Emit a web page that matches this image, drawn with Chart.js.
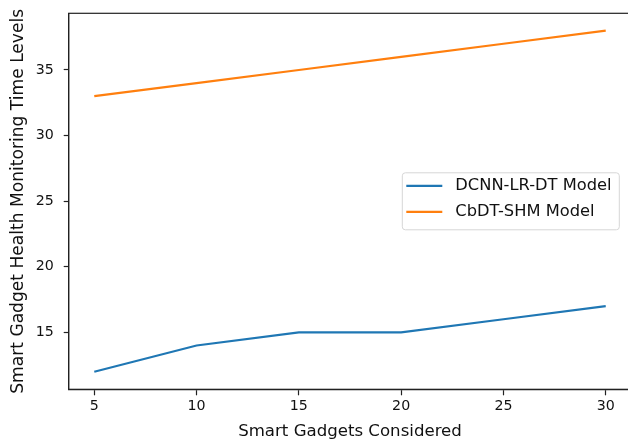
<!DOCTYPE html>
<html>
<head>
<meta charset="utf-8">
<script src="https://cdn.jsdelivr.net/npm/chart.js@4/dist/chart.umd.min.js"></script>
<style>
html,body{margin:0;padding:0;background:#fff;overflow:hidden;}
#wrap{width:628px;height:443px;overflow:hidden;position:relative;}
#box{width:640px;height:443px;position:absolute;left:0;top:0;}
</style>
</head>
<body>
<div id="wrap"><div id="box"><canvas id="c"></canvas></div></div>
<script>
const gadgets = [5, 10, 15, 20, 25, 30];
const dcnnLrDt = [12, 14, 15, 15, 16, 17];
const cbdtShm = [33, 34, 35, 36, 37, 38];
const seriesNames = ['DCNN-LR-DT Model', 'CbDT-SHM Model'];
const xTicks = [5, 10, 15, 20, 25, 30];
const yTicks = [15, 20, 25, 30, 35];
const xTitle = 'Smart Gadgets Considered';
const yTitle = 'Smart Gadget Health Monitoring Time Levels';

const FONT = 'DejaVu Sans';
const TICK_FS = 14.2;
const XT_FS = 16.6;
const YT_FS = 17.1;
const LEG_FS = 16.3;

const frame = {
  id: 'frame',
  afterDraw(chart) {
    const {ctx, chartArea: a} = chart;
    ctx.save();
    ctx.strokeStyle = '#222';
    ctx.lineWidth = 1.2;
    ctx.strokeRect(a.left, a.top, a.right - a.left, a.bottom - a.top);
    // legend (matplotlib style, center right)
    const w = 217, h = 57;
    const x0 = a.right - 12 - w;
    const y0 = (a.top + a.bottom) / 2 - h / 2;
    const r = 3;
    ctx.beginPath();
    ctx.moveTo(x0 + r, y0);
    ctx.arcTo(x0 + w, y0, x0 + w, y0 + h, r);
    ctx.arcTo(x0 + w, y0 + h, x0, y0 + h, r);
    ctx.arcTo(x0, y0 + h, x0, y0, r);
    ctx.arcTo(x0, y0, x0 + w, y0, r);
    ctx.closePath();
    ctx.fillStyle = 'rgba(255,255,255,0.8)';
    ctx.fill();
    ctx.strokeStyle = '#d6d6d6';
    ctx.lineWidth = 1;
    ctx.stroke();
    ctx.font = LEG_FS + 'px "' + FONT + '"';
    ctx.textBaseline = 'middle';
    ctx.textAlign = 'left';
    chart.data.datasets.forEach((ds, i) => {
      const yy = y0 + 13 + i * 26;
      ctx.beginPath();
      ctx.strokeStyle = ds.borderColor;
      ctx.lineWidth = 2.2;
      ctx.moveTo(x0 + 4, yy);
      ctx.lineTo(x0 + 40, yy);
      ctx.stroke();
      ctx.fillStyle = '#111';
      ctx.fillText(ds.label, x0 + 53, yy);
    });
    ctx.restore();
  }
};

new Chart(document.getElementById('c'), {
  type: 'line',
  data: {
    datasets: [
      {label: seriesNames[0], data: gadgets.map((g, i) => ({x: g, y: dcnnLrDt[i]})), borderColor: '#1f77b4', borderWidth: 2.2, pointRadius: 0, tension: 0, fill: false},
      {label: seriesNames[1], data: gadgets.map((g, i) => ({x: g, y: cbdtShm[i]})), borderColor: '#ff7f0e', borderWidth: 2.2, pointRadius: 0, tension: 0, fill: false}
    ]
  },
  options: {
    responsive: true,
    maintainAspectRatio: false,
    animation: false,
    devicePixelRatio: 1,
    layout: {padding: {left: 0, right: 8.7, top: 13.3, bottom: 0}},
    plugins: {legend: {display: false}, tooltip: {enabled: false}},
    scales: {
      x: {
        type: 'linear',
        min: 3.75, max: 31.25,
        afterBuildTicks: s => { s.ticks = xTicks.map(v => ({value: v})); },
        afterFit: s => { s.height = 53.7; s.paddingLeft = 0; s.paddingRight = 0; s.paddingTop = 0; s.paddingBottom = 0; },
        grid: {display: true, drawOnChartArea: false, drawTicks: true, tickLength: 6, tickColor: '#222', tickWidth: 1.2},
        border: {display: true, color: '#222', width: 1.2},
        ticks: {color: '#111', font: {family: FONT, size: TICK_FS}, padding: 3, maxRotation: 0, callback: v => String(v)},
        title: {display: true, text: xTitle, color: '#111', font: {family: FONT, size: XT_FS}, padding: {top: 0, bottom: 1}}
      },
      y: {
        type: 'linear',
        min: 10.66, max: 39.32,
        afterBuildTicks: s => { s.ticks = yTicks.map(v => ({value: v})); },
        afterFit: s => { s.width = 68.7; s.paddingTop = 0; s.paddingBottom = 0; s.paddingLeft = 0; s.paddingRight = 0; },
        grid: {display: true, drawOnChartArea: false, drawTicks: true, tickLength: 5, tickColor: '#222', tickWidth: 1.2},
        border: {display: true, color: '#222', width: 1.2},
        ticks: {color: '#111', font: {family: FONT, size: TICK_FS}, padding: 10, callback: v => String(v)},
        title: {display: true, text: yTitle, color: '#111', font: {family: FONT, size: YT_FS}, padding: {top: 8, bottom: 0}}
      }
    }
  },
  plugins: [frame]
});
</script>
</body>
</html>
